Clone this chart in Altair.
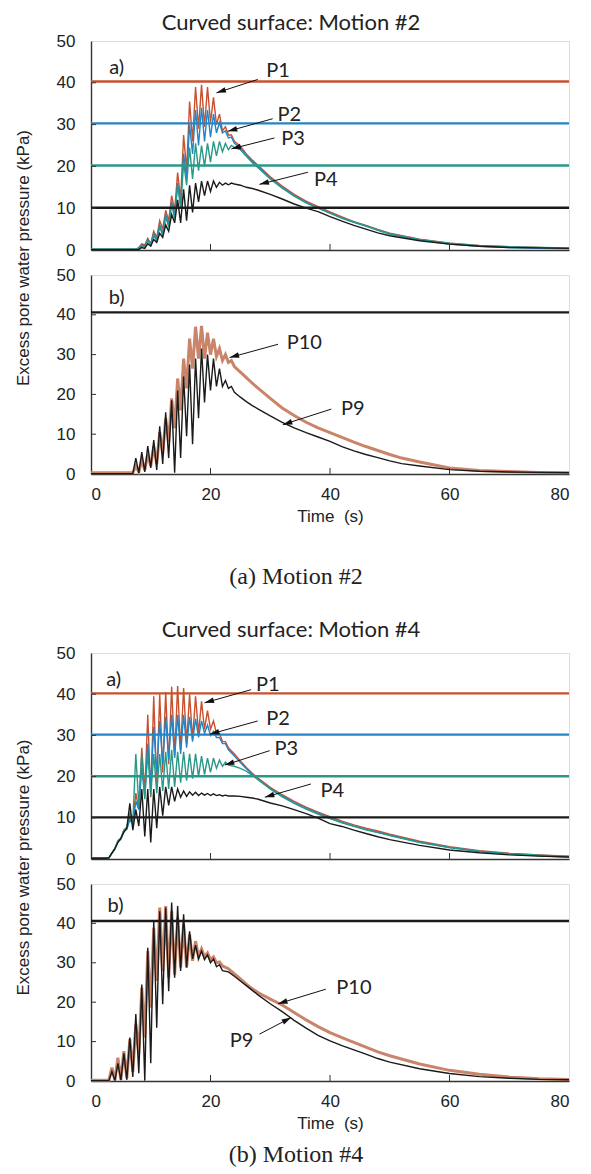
import math
import altair as alt
import pandas as pd

# ---------------- layout / style ----------------
W = 478
H_A1, H_B1, H_A2, H_B2 = 209, 199, 206, 197
GAP = 25
SPACER_H = 129

RED = "#c8502e"
BLUE = "#2384c6"
TEAL = "#2a9888"
BLACK = "#1a1a1a"
TAN = "#c98469"

LABEL_FONT = "Lato"
AXIS_FONT = "Liberation Sans"
CAPTION_FONT = "Liberation Serif"
TXT = "#222222"

# ---------------- data: Motion #2, panel a ----------------
T2A = [0, 7.5,
       8.0, 8.5, 9.0, 9.5, 10.0, 10.5, 11.0, 11.5, 12.0, 12.5, 13.0, 13.5, 14.0, 14.5, 15.0, 15.5,
       16.0, 16.5, 17.0, 17.5, 18.0, 18.5, 19.0, 19.5, 20.0, 20.5, 21.0, 21.5, 22.0, 22.5, 23.0, 23.5, 24.0,
       25, 26, 27, 28, 30, 32, 34, 36, 38, 40, 42, 44, 46, 48, 50, 55, 60, 65, 70, 75, 80]
P1_M2 = [0.2, 0.2,
         0.6, 1.5, 1.2, 2.8, 1.5, 4.5, 3.0, 7.0, 5.0, 9.5, 7.0, 13.0, 9.5, 18.5, 12.0, 27.5,
         19.0, 35.5, 26.0, 39.0, 29.0, 39.5, 29.5, 39.0, 30.5, 36.5, 30.0, 32.5, 28.5, 29.5, 27.5, 27.5, 26.0,
         24.8, 23.0, 21.5, 20.2, 17.5, 15.3, 13.3, 11.7, 10.4, 9.1, 7.9, 6.8, 5.9, 4.9, 4.0, 2.6, 1.6, 1.1, 0.8, 0.6, 0.4]
P2_M2 = [0.2, 0.2,
         0.3, 1.2, 0.8, 2.5, 1.3, 4.0, 2.5, 6.0, 4.0, 8.5, 6.0, 11.5, 8.5, 16.0, 11.0, 23.0,
         17.0, 30.0, 23.0, 33.5, 25.0, 34.0, 26.0, 33.5, 27.0, 32.5, 28.0, 30.5, 28.0, 28.5, 26.8, 27.0, 25.5,
         24.4, 22.7, 21.2, 19.9, 17.2, 15.0, 13.0, 11.4, 10.1, 8.8, 7.6, 6.6, 5.7, 4.7, 3.8, 2.4, 1.4, 0.9, 0.6, 0.4, 0.3]
P3_M2 = [0.2, 0.2,
         0.2, 1.0, 0.7, 2.2, 1.2, 3.5, 2.2, 5.5, 3.5, 8.0, 5.5, 11.0, 7.5, 15.5, 10.0, 21.0,
         15.5, 24.5, 17.0, 25.5, 19.0, 25.0, 20.0, 25.5, 21.0, 26.0, 22.5, 26.0, 23.5, 25.5, 24.0, 25.0, 24.5,
         24.0, 22.4, 20.9, 19.6, 17.0, 14.8, 12.9, 11.3, 10.0, 8.8, 7.7, 6.7, 5.8, 4.8, 3.9, 2.5, 1.6, 1.0, 0.8, 0.6, 0.5]
P4_M2 = [0.1, 0.1,
         0.1, 0.6, 0.4, 1.5, 0.9, 2.5, 1.8, 4.0, 3.0, 6.0, 4.5, 8.5, 6.5, 12.0, 6.5, 14.5,
         7.0, 15.5, 9.0, 16.0, 11.5, 16.5, 13.0, 16.5, 14.0, 16.5, 15.0, 16.2, 15.5, 16.0, 15.6, 16.0, 15.8,
         15.5, 15.0, 14.7, 14.3, 13.3, 12.2, 11.0, 10.0, 9.2, 8.0, 6.9, 5.9, 5.0, 4.1, 3.4, 2.2, 1.4, 0.9, 0.6, 0.5, 0.4]
HL_2A = [40.3, 30.3, 20.2, 10.1]

LBL_2A = ["a)", "P1", "P2", "P3", "P4"]
LBL_2A_T = [4.3, 31.3, 33.2, 33.8, 39.3]
LBL_2A_V = [43.6, 42.8, 32.2, 26.6, 16.7]
ARR_2A_T1 = [27.9, 30.4, 30.7, 36.3]
ARR_2A_V1 = [40.8, 31.4, 26.8, 18.6]
ARR_2A_T2 = [21.0, 22.9, 23.5, 28.2]
ARR_2A_V2 = [37.6, 28.4, 24.2, 15.7]

# ---------------- data: Motion #2, panel b ----------------
T2B = [0, 6.5,
       7.0, 7.5, 8.0, 8.5, 9.0, 9.5, 10.0, 10.5, 11.0, 11.5, 12.0, 12.5, 13.0, 13.5, 14.0, 14.5, 15.0, 15.5,
       16.0, 16.5, 17.0, 17.5, 18.0, 18.5, 19.0, 19.5, 20.0, 20.5, 21.0, 21.5, 22.0, 22.5, 23.0, 23.5, 24.0,
       25, 26, 27, 28, 30, 32, 34, 36, 38, 40, 42, 44, 46, 48, 50, 52, 55, 60, 65, 70, 75, 80]
P10_M2 = [0.3, 0.3,
          0.3, 2.0, 0.5, 3.5, 1.0, 5.0, 2.0, 7.0, 2.5, 10.5, 5.0, 14.0, 8.0, 19.0, 11.5, 24.0, 16.0, 29.0,
          21.5, 34.0, 26.5, 37.0, 29.0, 37.2, 29.0, 35.5, 30.0, 34.0, 29.5, 31.5, 28.5, 30.0, 28.0, 28.5, 27.0,
          25.6, 24.2, 22.8, 21.5, 19.0, 16.6, 14.7, 13.0, 11.6, 10.4, 9.2, 8.0, 6.9, 5.9, 4.9, 4.0, 3.0, 1.5, 0.9, 0.6, 0.4, 0.3]
P9_M2 = [0.1, 0.1,
         0.1, 4.0, 0.3, 5.5, 0.5, 7.0, 1.5, 8.5, 1.0, 12.0, 2.5, 15.5, 4.0, 18.5, 0.3, 21.0, 4.0, 24.5,
         9.5, 27.5, 7.5, 29.0, 14.0, 31.5, 18.0, 30.0, 21.0, 29.0, 22.0, 26.5, 22.0, 23.5, 21.5, 22.0, 20.5,
         19.3, 18.2, 17.2, 16.3, 14.6, 13.0, 11.6, 10.4, 9.3, 8.2, 6.9, 5.8, 4.9, 4.1, 3.3, 2.6, 2.0, 1.1, 0.7, 0.5, 0.4, 0.3]
HL_2B = [40.6]

LBL_2B = ["b)", "P10", "P9"]
LBL_2B_T = [4.3, 35.7, 43.8]
LBL_2B_V = [44.3, 33.0, 16.3]
ARR_2B_T1 = [31.3, 40.2]
ARR_2B_V1 = [32.6, 16.3]
ARR_2B_T2 = [23.2, 32.1]
ARR_2B_V2 = [29.25, 12.4]

# ---------------- data: Motion #4, panel a ----------------
T4A = [0, 2.5,
       3.0, 3.5, 4.0, 4.5, 5.0, 5.5, 6.0, 6.5, 7.0, 7.5, 8.0, 8.5, 9.0, 9.5, 10.0, 10.5, 11.0, 11.5, 12.0, 12.5,
       13.0, 13.5, 14.0, 14.5, 15.0, 15.5, 16.0, 16.5, 17.0, 17.5, 18.0, 18.5, 19.0, 19.5, 20.0, 20.5, 21.0, 21.5,
       22.0, 22.5, 23.0,
       24, 25, 26, 27, 28, 30, 32, 34, 36, 38, 40, 42, 44, 46, 48, 50, 55, 60, 65, 70, 75, 80]
P1_M4 = [0.2, 0.2,
         0.3, 1.5, 2.5, 4.5, 5.0, 7.0, 7.5, 10.0, 9.0, 16.0, 12.0, 27.0, 16.0, 35.0, 15.0, 39.5, 17.5, 40.0, 21.0, 40.5,
         23.0, 41.8, 25.0, 42.0, 26.5, 41.5, 28.0, 40.0, 29.0, 39.5, 30.5, 38.3, 31.5, 36.0, 31.5, 33.5, 30.5, 30.5,
         28.5, 28.5, 27.0,
         25.5, 23.8, 22.2, 20.8, 19.6, 17.4, 15.6, 14.0, 12.6, 11.4, 10.3, 9.2, 8.3, 7.5, 6.8, 6.0, 4.3, 3.0, 2.0, 1.4, 1.0, 0.7]
P2_M4 = [0.2, 0.2,
         0.3, 1.4, 2.4, 4.2, 4.8, 6.8, 7.2, 9.5, 8.5, 14.0, 12.0, 22.0, 15.0, 28.0, 18.0, 32.0, 21.0, 33.5, 23.0, 34.5,
         24.0, 35.0, 24.5, 35.0, 25.5, 35.0, 27.0, 34.5, 28.5, 34.0, 29.5, 33.5, 30.5, 32.5, 30.0, 31.0, 29.5, 29.5,
         28.0, 28.0, 26.5,
         25.0, 23.4, 21.9, 20.5, 19.3, 17.1, 15.3, 13.7, 12.3, 11.1, 10.0, 8.9, 8.0, 7.2, 6.5, 5.8, 4.1, 2.8, 1.8, 1.2, 0.8, 0.5]
P3_M4 = [0.2, 0.2,
         0.3, 1.5, 2.6, 4.3, 5.0, 7.0, 7.8, 11.0, 9.0, 25.5, 13.0, 25.5, 14.5, 26.0, 15.5, 25.5, 16.0, 25.5, 16.5, 26.0,
         17.0, 26.5, 17.5, 26.0, 18.5, 26.0, 19.0, 25.5, 19.5, 25.5, 20.0, 25.0, 20.5, 24.5, 21.0, 24.5, 22.0, 24.0,
         22.5, 23.5, 22.8,
         22.5, 22.0, 21.3, 20.3, 19.2, 17.0, 15.1, 13.5, 12.1, 10.9, 9.8, 8.8, 7.9, 7.1, 6.4, 5.7, 4.0, 2.8, 1.9, 1.3, 0.9, 0.6]
P4_M4 = [0.2, 0.2,
         0.3, 1.4, 2.5, 4.0, 5.0, 6.5, 7.5, 13.5, 7.0, 12.0, 8.0, 17.0, 5.5, 17.0, 4.0, 17.0, 7.5, 17.5, 10.5, 17.5,
         13.0, 17.5, 14.0, 17.0, 15.0, 16.5, 15.2, 16.3, 15.5, 16.2, 15.4, 16.0, 15.5, 15.9, 15.4, 15.8, 15.4, 15.6,
         15.3, 15.5, 15.3,
         15.3, 15.2, 15.0, 14.8, 14.5, 13.6, 12.9, 12.0, 11.0, 9.9, 8.6, 7.9, 7.0, 6.2, 5.4, 4.7, 3.3, 2.2, 1.5, 1.0, 0.7, 0.5]
HL_4A = [40.2, 30.2, 20.1, 10.1]

LBL_4A = ["a)", "P1", "P2", "P3", "P4"]
LBL_4A_T = [3.8, 29.6, 31.3, 32.7, 40.4]
LBL_4A_V = [43.5, 42.3, 33.9, 26.6, 16.6]
ARR_4A_T1 = [26.8, 27.9, 29.9, 36.8]
ARR_4A_V1 = [41.1, 33.5, 26.3, 18.2]
ARR_4A_T2 = [19.0, 19.9, 22.4, 29.1]
ARR_4A_V2 = [37.9, 30.3, 22.8, 15.0]

# ---------------- data: Motion #4, panel b ----------------
T4B = [0, 2.5,
       3.0, 3.5, 4.0, 4.5, 5.0, 5.5, 6.0, 6.5, 7.0, 7.5, 8.0, 8.5, 9.0, 9.5, 10.0, 10.5, 11.0, 11.5, 12.0, 12.5,
       13.0, 13.5, 14.0, 14.5, 15.0, 15.5, 16.0, 16.5, 17.0, 17.5, 18.0, 18.5, 19.0, 19.5, 20.0, 20.5, 21.0, 21.5, 22.0,
       23, 24, 25, 26, 27, 28, 30, 32, 34, 36, 38, 40, 42, 44, 46, 48, 50, 55, 60, 65, 70, 75, 80]
P10_M4 = [0.2, 0.2,
          0.2, 3.4, 0.2, 5.9, 0.3, 7.6, 0.7, 10.6, 2.3, 14.4, 6.8, 23.7, 11.0, 33.0, 18.6, 38.9, 25.4, 44.0, 27.9, 44.4,
          26.2, 43.1, 27.0, 41.4, 28.8, 39.8, 28.8, 37.2, 30.5, 35.5, 31.5, 33.5, 31.5, 32.5, 30.8, 31.5, 30.0, 30.2, 29.2,
          28.5, 27.2, 25.9, 24.6, 23.4, 22.4, 20.8, 19.3, 17.4, 15.5, 13.8, 12.3, 11.0, 9.8, 8.6, 7.4, 6.4, 4.3, 2.7, 1.7, 1.0, 0.6, 0.4]
P9_M4 = [0.1, 0.1,
         0.1, 2.4, 0.1, 4.5, 0.2, 7.0, 0.3, 11.0, 1.0, 17.0, 2.0, 24.5, 0.1, 33.8, 4.5, 40.6, 13.5, 43.1, 19.5, 44.0,
         22.8, 45.3, 26.2, 44.4, 27.9, 42.3, 28.8, 38.0, 31.0, 34.5, 31.0, 33.0, 30.8, 32.0, 30.0, 31.0, 29.0, 29.5, 28.0,
         27.7, 26.6, 25.4, 24.2, 23.0, 21.8, 19.6, 17.6, 15.4, 13.4, 11.6, 10.2, 9.0, 7.9, 6.8, 5.7, 4.8, 3.1, 1.9, 1.1, 0.7, 0.4, 0.3]
HL_4B = [40.6]

LBL_4B = ["b)", "P10", "P9"]
LBL_4B_T = [4.1, 44.0, 25.2]
LBL_4B_V = [44.4, 23.7, 10.2]
ARR_4B_T1 = [39.3, 28.2]
ARR_4B_V1 = [23.3, 11.9]
ARR_4B_T2 = [31.3, 33.5]
ARR_4B_V2 = [19.6, 16.1]

Y_TICKS = [0, 10, 20, 30, 40, 50]
X_TICKS = [0, 20, 40, 60, 80]
Y_INNER = [10, 20, 30, 40]
X_INNER = [20, 40, 60]

TITLE_1 = "Curved surface: Motion #2"
TITLE_2 = "Curved surface: Motion #4"
CAPTION_1 = "(a) Motion #2"
CAPTION_2 = "(b) Motion #4"
Y_TITLE = "Excess pore water pressure (kPa)"
X_TITLE = "Time\u00a0 (s)"

# ---------------- helpers ----------------
X_SCALE = alt.Scale(domain=[0, 80], nice=False, zero=False)
Y_SCALE = alt.Scale(domain=[0, 50], nice=False)
ARROW_PATH = "M0,0L-0.6,2L0.6,2Z"


def x_axis(show):
    if show:
        return alt.Axis(values=X_TICKS, ticks=False, grid=False, domainColor="#333333", domainWidth=1.4,
                        labelFont=AXIS_FONT, labelFontSize=17, labelColor=TXT, labelPadding=12,
                        title=X_TITLE, titleFont=AXIS_FONT, titleFontSize=17, titleFontWeight="normal",
                        titleColor=TXT, titlePadding=6)
    return alt.Axis(values=X_TICKS, labels=False, ticks=False, grid=False, domainColor="#333333",
                    domainWidth=1.4, title=None)


def y_axis(title_y=None):
    if title_y is not None:
        return alt.Axis(values=Y_TICKS, ticks=False, grid=False, domainColor="#333333", domainWidth=1.4,
                        labelFont=AXIS_FONT, labelFontSize=17, labelColor=TXT, labelPadding=16,
                        title=Y_TITLE, titleFont=AXIS_FONT, titleFontSize=17, titleFontWeight="normal",
                        titleColor=TXT, titleY=title_y, titlePadding=24)
    return alt.Axis(values=Y_TICKS, ticks=False, grid=False, domainColor="#333333", domainWidth=1.4,
                    labelFont=AXIS_FONT, labelFontSize=17, labelColor=TXT, labelPadding=16, title=None)


def panel(T, series, hlines, lbl, lbl_t, lbl_v, a_t1, a_v1, a_t2, a_v2, H, show_x,
          title_y=None, texts=()):
    XA = x_axis(show_x)
    YA = y_axis(title_y)

    def X(f):
        return alt.X(f, scale=X_SCALE, axis=XA)

    def Y(f):
        return alt.Y(f, scale=Y_SCALE, axis=YA)

    layers = []
    for vals, col, w in series:
        df = pd.DataFrame({"t": T, "v": vals})
        layers.append(alt.Chart(df).mark_line(color=col, strokeWidth=w).encode(x=X("t:Q"), y=Y("v:Q")))
    for lev, col in hlines:
        layers.append(alt.Chart(pd.DataFrame({"v": [lev]})).mark_rule(color=col, strokeWidth=2.4)
                      .encode(y=Y("v:Q")))
    # inward ticks
    layers.append(alt.Chart(pd.DataFrame({"v": Y_INNER})).mark_rule(color="#333333", strokeWidth=1)
                  .encode(y=Y("v:Q"), x=alt.value(0), x2=alt.value(5)))
    layers.append(alt.Chart(pd.DataFrame({"t": X_INNER})).mark_rule(color="#333333", strokeWidth=1)
                  .encode(x=X("t:Q"), y=alt.value(H), y2=alt.value(H - 6)))
    # labels
    layers.append(alt.Chart(pd.DataFrame({"t": lbl_t, "v": lbl_v, "s": lbl}))
                  .mark_text(font=LABEL_FONT, fontSize=20, color=TXT, align="center", baseline="middle")
                  .encode(x=X("t:Q"), y=Y("v:Q"), text="s:N"))
    # arrows
    ang = []
    for t1, v1, t2, v2 in zip(a_t1, a_v1, a_t2, a_v2):
        dx = (t2 - t1) * W / 80.0
        dy = -(v2 - v1) * H / 50.0
        ang.append(math.degrees(math.atan2(dx, -dy)) % 360)
    adf = pd.DataFrame({"t": a_t1, "v": a_v1, "t2": a_t2, "v2": a_v2, "ang": ang})
    layers.append(alt.Chart(adf).mark_rule(color="#111111", strokeWidth=1)
                  .encode(x=X("t:Q"), y=Y("v:Q"), x2="t2:Q", y2="v2:Q"))
    hdf = pd.DataFrame({"t": a_t2, "v": a_v2, "ang": ang})
    layers.append(alt.Chart(hdf).mark_point(shape=ARROW_PATH, filled=True, color="#111111", size=90,
                                            opacity=1, strokeWidth=0)
                  .encode(x=X("t:Q"), y=Y("v:Q"), angle=alt.Angle("ang:Q", scale=None)))
    for (txt, px, py, font, size) in texts:
        layers.append(alt.Chart(pd.DataFrame({"a": [0]}))
                      .mark_text(text=txt, font=font, fontSize=size, color=TXT, align="center", baseline="middle")
                      .encode(x=alt.value(px), y=alt.value(py)))
    return alt.layer(*layers).properties(width=W, height=H)


A1 = panel(T2A, [(P1_M2, RED, 1.4), (P2_M2, BLUE, 1.4), (P3_M2, TEAL, 1.4), (P4_M2, BLACK, 1.4)],
           list(zip(HL_2A, [RED, BLUE, TEAL, BLACK])),
           LBL_2A, LBL_2A_T, LBL_2A_V, ARR_2A_T1, ARR_2A_V1, ARR_2A_T2, ARR_2A_V2, H_A1, False,
           title_y=(H_A1 + GAP + H_B1) / 2.0,
           texts=[(TITLE_1, 200, -18, LABEL_FONT, 22)])
B1 = panel(T2B, [(P10_M2, TAN, 3.0), (P9_M2, BLACK, 1.4)], [(HL_2B[0], BLACK)],
           LBL_2B, LBL_2B_T, LBL_2B_V, ARR_2B_T1, ARR_2B_V1, ARR_2B_T2, ARR_2B_V2, H_B1, True)

SP = alt.layer(
    alt.Chart(pd.DataFrame({"a": [0]})).mark_text(text=CAPTION_1, font=CAPTION_FONT, fontSize=24, color=TXT,
                                                  align="center", baseline="middle")
    .encode(x=alt.value(205), y=alt.value(78)),
    alt.Chart(pd.DataFrame({"a": [0]})).mark_text(text=TITLE_2, font=LABEL_FONT, fontSize=22, color=TXT,
                                                  align="center", baseline="middle")
    .encode(x=alt.value(200), y=alt.value(131)),
).properties(width=W, height=SPACER_H, view=alt.ViewBackground(strokeOpacity=0))

A2 = panel(T4A, [(P1_M4, RED, 1.4), (P2_M4, BLUE, 1.4), (P3_M4, TEAL, 1.4), (P4_M4, BLACK, 1.4)],
           list(zip(HL_4A, [RED, BLUE, TEAL, BLACK])),
           LBL_4A, LBL_4A_T, LBL_4A_V, ARR_4A_T1, ARR_4A_V1, ARR_4A_T2, ARR_4A_V2, H_A2, False,
           title_y=(H_A2 + GAP + H_B2) / 2.0)
B2 = panel(T4B, [(P10_M4, TAN, 3.0), (P9_M4, BLACK, 1.4)], [(HL_4B[0], BLACK)],
           LBL_4B, LBL_4B_T, LBL_4B_V, ARR_4B_T1, ARR_4B_V1, ARR_4B_T2, ARR_4B_V2, H_B2, True,
           texts=[(CAPTION_2, 205, H_B2 + 74, CAPTION_FONT, 24)])

chart = alt.vconcat(A1, B1, SP, A2, B2, spacing=GAP, bounds="flush").configure_view(
    stroke="#707070", strokeWidth=1
).configure(background="white", padding={"left": 5, "top": 3, "right": 5, "bottom": 5})

chart.save("out.html", embed_options={"renderer": "svg", "actions": False})
